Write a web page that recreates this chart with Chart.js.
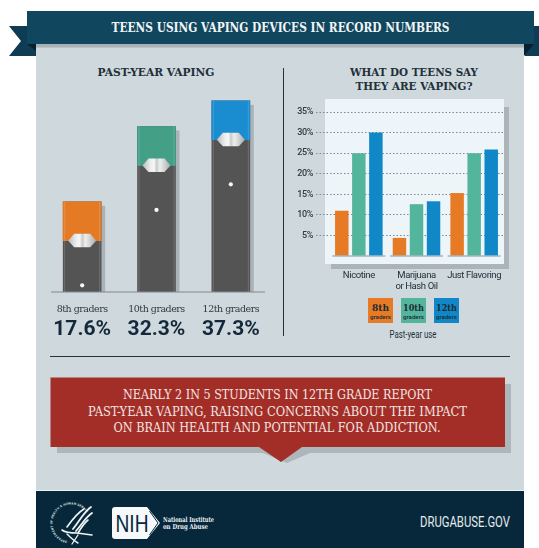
<!DOCTYPE html>
<html lang="en">
<head>
<meta charset="utf-8">
<title>Teens using vaping devices in record numbers</title>
<script src="https://cdn.jsdelivr.net/npm/chart.js@4"></script>
<style>
  html, body { margin: 0; padding: 0; background: #fff; }
  #stage { position: relative; width: 539px; height: 548px; overflow: hidden; }
  #art { position: absolute; left: 0; top: 0; }
  canvas { position: absolute; }
  #podWrap { position: absolute; left: 45px; top: 87px; width: 223px; height: 258px; }
  #useWrap { position: absolute; left: 286px; top: 100px; width: 217px; height: 200px; }
  text { font-family: "DejaVu Serif", serif; }
  .slab { font-family: "DejaVu Serif", serif; font-weight: 700; }
  .narrow { font-family: Roboto, sans-serif; }
</style>
</head>
<body>
<div id="stage">
<svg id="art" width="539" height="548" viewBox="0 0 539 548" xmlns="http://www.w3.org/2000/svg">
  <defs>
    <path id="sealArc" d="M 67 541 A 18.5 18.5 0 1 1 86 512"/>
  </defs>

  <!-- page panel and footer -->
  <rect x="36" y="44" width="488" height="447" fill="#cfd9dd"/>
  <rect x="36" y="44" width="488" height="3.5" fill="#a7b1b6"/>
  <rect x="36" y="490" width="488" height="1" fill="#eef2f4"/>
  <rect x="36" y="491" width="488" height="57" fill="#07283b"/>

  <!-- header ribbon -->
  <polygon points="9,26 36,26 36,56 9,56 21,41" fill="#0e3c55"/>
  <polygon points="525,26 539,26 539,56 525,56" fill="#0e3c55"/>
  <polygon points="27,44 36,44 36,51" fill="#06202f"/>
  <polygon points="534,44 524,44 524,56" fill="#06202f"/>
  <rect x="27" y="11" width="507" height="33" fill="#10475f"/>
  <text x="280.5" y="32" class="slab" font-size="12.5" fill="#f2f5f6" text-anchor="middle" textLength="338" lengthAdjust="spacingAndGlyphs">TEENS USING VAPING DEVICES IN RECORD NUMBERS</text>

  <!-- section headings and rules -->
  <text x="156" y="76" class="slab" font-size="10.5" fill="#22303a" text-anchor="middle" textLength="117" lengthAdjust="spacingAndGlyphs">PAST-YEAR VAPING</text>
  <text x="414" y="76" class="slab" font-size="10.5" fill="#22303a" text-anchor="middle" textLength="128" lengthAdjust="spacingAndGlyphs">WHAT DO TEENS SAY</text>
  <text x="414" y="90" class="slab" font-size="10.5" fill="#22303a" text-anchor="middle" textLength="117" lengthAdjust="spacingAndGlyphs">THEY ARE VAPING?</text>
  <rect x="283" y="68" width="1" height="268" fill="#24323c"/>
  <rect x="50" y="356" width="460" height="1" fill="#24323c"/>

  <!-- plot card behind the usage chart -->
  <rect x="331" y="107" width="178" height="162" fill="#aab4b9"/>
  <rect x="325" y="99" width="179" height="165" fill="#eef5f9"/>

  <!-- key for the usage chart -->
  <rect x="368" y="298" width="25" height="25" fill="#e67a25"/>
  <rect x="401" y="298" width="25" height="25" fill="#54b59d"/>
  <rect x="434" y="298" width="25" height="25" fill="#1088c8"/>
  <g text-anchor="middle" fill="#1c2a33">
    <text x="380.5" y="311" class="slab" font-size="9.5" textLength="17" lengthAdjust="spacingAndGlyphs">8th</text>
    <text x="413.5" y="311" class="slab" font-size="9.5" textLength="21" lengthAdjust="spacingAndGlyphs">10th</text>
    <text x="446.5" y="311" class="slab" font-size="9.5" textLength="21" lengthAdjust="spacingAndGlyphs">12th</text>
    <text x="380.5" y="318.5" font-size="5.5" textLength="21" lengthAdjust="spacingAndGlyphs" style="font-family:Roboto,sans-serif;font-weight:500">graders</text>
    <text x="413.5" y="318.5" font-size="5.5" textLength="21" lengthAdjust="spacingAndGlyphs" style="font-family:Roboto,sans-serif;font-weight:500">graders</text>
    <text x="446.5" y="318.5" font-size="5.5" textLength="21" lengthAdjust="spacingAndGlyphs" style="font-family:Roboto,sans-serif;font-weight:500">graders</text>
    <text x="413" y="338" class="narrow" font-size="11" fill="#22303a" textLength="47" lengthAdjust="spacingAndGlyphs">Past-year use</text>
  </g>

  <!-- call-out -->
  <polygon points="57,384 511,384 511,453 310,453 287,463 263,453 57,453" fill="#adb6ba"/>
  <polygon points="50.5,377.5 505,377.5 505,447 302,447 281,462 259,447 50.5,447" fill="#a32e28"/>
  <g fill="#f3e6e2" font-size="12" text-anchor="middle">
    <text x="277.5" y="398.5" textLength="309" lengthAdjust="spacingAndGlyphs">NEARLY 2 IN 5 STUDENTS IN 12TH GRADE REPORT</text>
    <text x="277.5" y="415.5" textLength="379" lengthAdjust="spacingAndGlyphs">PAST-YEAR VAPING, RAISING CONCERNS ABOUT THE IMPACT</text>
    <text x="277" y="432" textLength="327" lengthAdjust="spacingAndGlyphs">ON BRAIN HEALTH AND POTENTIAL FOR ADDICTION.</text>
  </g>

  <!-- department seal -->
  <text font-size="3.1" fill="#dfe6ea" style="font-family:Roboto,sans-serif;font-weight:700" letter-spacing=".25">
    <textPath href="#sealArc">DEPARTMENT OF HEALTH &amp; HUMAN SERVICES · USA</textPath>
  </text>
  <g fill="none" stroke="#f0f4f6" stroke-linecap="round">
    <path d="M91 507 C84 512 80 520 73 529" stroke-width="1.8"/>
    <path d="M92 513 C86 517 82 524 76 531" stroke-width="1.8"/>
    <path d="M88 520 C84 523 81 528 78 533" stroke-width="1.6"/>
    <path d="M84 509 C77 513 72 520 67 527" stroke-width="1.6"/>
    <path d="M62 530 C66 533 72 533 77 533 L92 535" stroke-width="1.6"/>
    <path d="M67 534 C71 538 74 541 78 543" stroke-width="1.4"/>
    <path d="M78 535 L72 544" stroke-width="1.3"/>
  </g>

  <!-- institute mark -->
  <path d="M115 507 H147 L160 523 L147 539 H115 Q112 539 112 536 V510 Q112 507 115 507 Z" fill="#f6f8f9"/>
  <path d="M149.5 511 L158 523 L149.5 535" fill="none" stroke="#07283b" stroke-width="1"/>
  <text x="132" y="532" font-size="24" fill="#07283b" text-anchor="middle" textLength="33" lengthAdjust="spacingAndGlyphs" style="font-family:'Liberation Sans',sans-serif">NIH</text>
  <g fill="#e9eef1" font-size="7" style="font-family:'Liberation Sans',sans-serif;font-weight:700">
    <text x="163" y="521.5" textLength="51" lengthAdjust="spacingAndGlyphs">National Institute</text>
    <text x="163" y="529" textLength="45" lengthAdjust="spacingAndGlyphs">on Drug Abuse</text>
  </g>
  <text x="420" y="526.5" font-size="14" fill="#e4eaed" textLength="90" lengthAdjust="spacingAndGlyphs" class="narrow">DRUGABUSE.GOV</text>
</svg>

<div id="podWrap"><canvas id="podChart"></canvas></div>
<div id="useWrap"><canvas id="useChart"></canvas></div>
</div>

<script>
// Past-year vaping by grade
const grades = ['8th graders', '10th graders', '12th graders'];
const pastYear = [17.6, 32.3, 37.3];
const podColors = ['#e57a25', '#43a086', '#1a8cd0'];

// Substances reported, by grade
const substances = ['Nicotine', ['Marijuana', 'or Hash Oil'], 'Just Flavoring'];
const grade8 = [11, 4.4, 15.3];
const grade10 = [25, 12.6, 25];
const grade12 = [30, 13.3, 25.9];
const gradeColors = ['#e67a25', '#54b59d', '#1088c8'];
const usageTicks = [5, 10, 15, 20, 25, 30, 35];

// Height of the coloured cartridge at the top of each pod, in axis units
const capUnits = 7.6;

// Tightens axis text; canvas state is reset on resize, so it is applied per update and draw
const tightText = spacing => ({
  id: 'tightText',
  beforeUpdate(chart) { chart.ctx.letterSpacing = spacing; },
  beforeDraw(chart) { chart.ctx.letterSpacing = spacing; }
});

// Fixed-height category axis that lets the plot keep its full width
const fixCategoryAxis = height => s => {
  s.height = height;
  s.paddingLeft = 0;
  s.paddingRight = 0;
};

// Paints the pod details that sit on the bars: drop shadow, metal clasp, status light
const podDetails = {
  id: 'podDetails',
  beforeDatasetsDraw(chart) {
    const { ctx } = chart;
    const base = chart.scales.y.getPixelForValue(0);
    ctx.save();
    ctx.fillStyle = '#aab3b7';
    chart.getDatasetMeta(0).data.forEach(bar => {
      const w = bar.width;
      ctx.fillRect(bar.x - w / 2 + 4, bar.y + 4, w, base - bar.y - 4);
    });
    ctx.restore();
  },
  afterDatasetsDraw(chart) {
    const { ctx, scales } = chart;
    const base = scales.y.getPixelForValue(0);
    const capMeta = chart.getDatasetMeta(1);
    ctx.save();
    // ground line
    ctx.fillStyle = '#7f8a90';
    ctx.fillRect(scales.x.left + 6, base - 0.5, scales.x.width - 9, 1);
    chart.getDatasetMeta(0).data.forEach((bar, i) => {
      const seam = capMeta.data[i].base;
      const x = bar.x;
      // thin highlights along the sides of the pod
      ctx.fillStyle = 'rgba(255,255,255,.16)';
      ctx.fillRect(x - bar.width / 2 + 1, bar.y, 1, base - bar.y);
      ctx.fillRect(x + bar.width / 2 - 2, bar.y, 1, base - bar.y);
      // clasp
      const g = ctx.createLinearGradient(x - 14, 0, x + 14, 0);
      g.addColorStop(0, '#b9bcbd');
      g.addColorStop(.3, '#efefef');
      g.addColorStop(.42, '#f6f6f6');
      g.addColorStop(.5, '#c9cbcc');
      g.addColorStop(.62, '#eeeeee');
      g.addColorStop(1, '#a9acad');
      ctx.fillStyle = g;
      ctx.beginPath();
      ctx.moveTo(x - 14, seam);
      ctx.lineTo(x - 8, seam - 7);
      ctx.lineTo(x + 8, seam - 7);
      ctx.lineTo(x + 14, seam);
      ctx.lineTo(x + 8, seam + 6.5);
      ctx.lineTo(x - 8, seam + 6.5);
      ctx.closePath();
      ctx.fill();
      // status light
      ctx.fillStyle = '#f7f8f8';
      ctx.beginPath();
      ctx.arc(x, bar.y + 83.5, 2.1, 0, Math.PI * 2);
      ctx.fill();
    });
    // percentage under each grade label
    ctx.fillStyle = '#13283a';
    ctx.font = '700 21px Roboto, sans-serif';
    ctx.textAlign = 'center';
    ctx.textBaseline = 'middle';
    ctx.letterSpacing = '0px';
    pastYear.forEach((v, i) => {
      ctx.fillText(v.toFixed(1) + '%', scales.x.getPixelForTick(i), base + 38);
    });
    ctx.restore();
  }
};

new Chart(document.getElementById('podChart'), {
  type: 'bar',
  data: {
    labels: grades,
    datasets: [
      { label: 'Past-year vaping', data: pastYear, backgroundColor: '#545454', barThickness: 38, grouped: false, order: 2 },
      { label: 'Cartridge', data: pastYear.map(v => [v - capUnits, v]), backgroundColor: podColors, barThickness: 38, grouped: false, order: 1 }
    ]
  },
  options: {
    responsive: true,
    maintainAspectRatio: false,
    animation: false,
    events: [],
    layout: { padding: 0 },
    plugins: { legend: { display: false }, tooltip: { enabled: false } },
    scales: {
      x: {
        border: { display: false },
        grid: { display: false, drawTicks: false },
        ticks: { color: '#2c3a44', padding: 12, maxRotation: 0, autoSkip: false, font: { family: 'DejaVu Serif', size: 9.5 } },
        afterFit: fixCategoryAxis(53)
      },
      y: { display: false, min: 0, max: 40 }
    }
  },
  plugins: [tightText('-0.5px'), podDetails]
});

// Axis line under each cluster of bars
const clusterBaselines = {
  id: 'clusterBaselines',
  afterDatasetsDraw(chart) {
    const { ctx, scales } = chart;
    const y = scales.y.getPixelForValue(0);
    ctx.save();
    ctx.strokeStyle = '#7d97a6';
    ctx.lineWidth = 1.2;
    substances.forEach((_, i) => {
      const x = scales.x.getPixelForTick(i);
      ctx.beginPath();
      ctx.moveTo(x - 26.5, y);
      ctx.lineTo(x + 26.5, y);
      ctx.stroke();
    });
    ctx.restore();
  }
};

const series = [grade8, grade10, grade12].map((data, i) => ({
  label: ['8th graders', '10th graders', '12th graders'][i],
  data,
  backgroundColor: gradeColors[i],
  barPercentage: 0.79,
  categoryPercentage: 0.887
}));

const gridColor = c => (c.tick && c.tick.value === 0 ? 'rgba(0,0,0,0)' : '#7d8991');

new Chart(document.getElementById('useChart'), {
  type: 'bar',
  data: { labels: substances, datasets: series },
  options: {
    responsive: true,
    maintainAspectRatio: false,
    animation: false,
    events: [],
    layout: { padding: { top: 12 } },
    plugins: { legend: { display: false }, tooltip: { enabled: false } },
    scales: {
      x: {
        border: { display: false },
        grid: { display: false, drawTicks: false },
        ticks: {
          color: '#22303a',
          padding: 14,
          maxRotation: 0,
          autoSkip: false,
          font: { family: 'Roboto', size: 9.5 }
        },
        afterFit: fixCategoryAxis(44)
      },
      y: {
        min: 0,
        max: 35,
        border: { display: false, dash: [1.5, 2] },
        afterBuildTicks(s) { s.ticks = [0].concat(usageTicks).map(value => ({ value })); },
        grid: {
          color: gridColor,
          tickColor: gridColor,
          lineWidth: 1,
          tickBorderDash: [1.5, 2],
          tickLength: 14
        },
        ticks: {
          color: '#2c3a44',
          padding: 3,
          font: { family: 'Roboto', size: 9, weight: '500' },
          callback: v => (v === 0 ? '' : v + '%')
        },
        afterFit(s) { s.width = 44; }
      }
    }
  },
  plugins: [tightText('-0.4px'), clusterBaselines]
});
</script>
</body>
</html>
